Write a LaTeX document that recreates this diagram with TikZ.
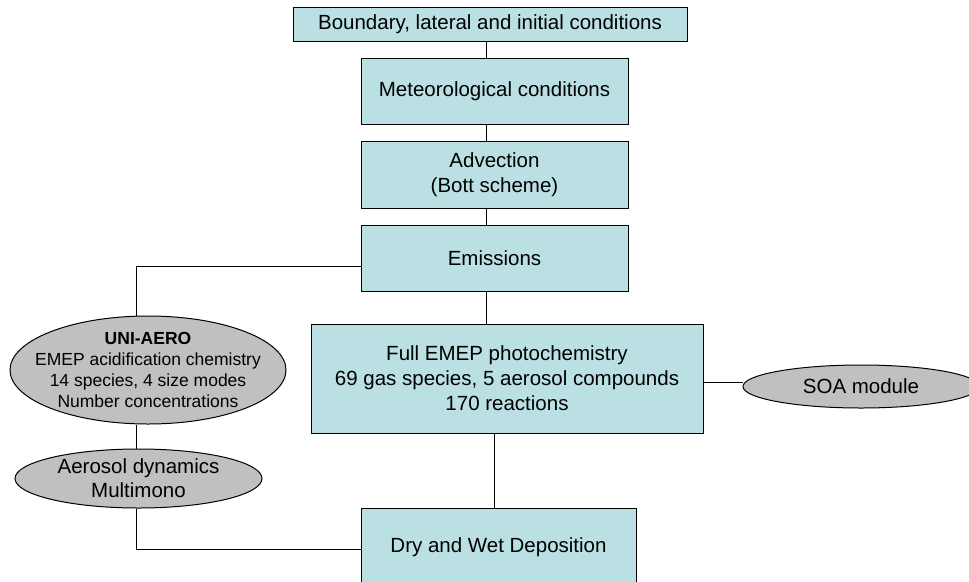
\documentclass[tikz,border=0pt]{standalone}
\usepackage{fontspec}
\setmainfont{Liberation Sans}
\usetikzlibrary{shapes.geometric}
\definecolor{boxcyan}{RGB}{187,224,227}
\definecolor{ovalgray}{RGB}{192,192,192}

\begin{document}
\begin{tikzpicture}
[x=1pt,y=-1pt,line width=1pt,
every node/.style={font=\fontsize{20.5}{25}\selectfont,align=center,inner sep=0pt},
procbox/.style={rectangle,draw,fill=boxcyan},
module/.style={ellipse,draw,fill=ovalgray,inner xsep=-25pt,inner ysep=-10pt}]
\path[use as bounding box,clip] (0,0) rectangle (969,581);
\node[procbox,minimum width=394,minimum height=34] (bound) at (490,24) {Boundary, lateral and initial conditions};
\node[procbox,minimum width=267,minimum height=66] (meteor) at (494.5,91) {Meteorological conditions};
\node[procbox,minimum width=267,minimum height=67] (advec) at (494.5,174.5) {Advection\\(Bott scheme)};
\node[procbox,minimum width=267,minimum height=66] (emis) at (494.5,258) {Emissions};
\node[procbox,minimum width=392,minimum height=109] (full) at (507,378.5) {Full EMEP photochemistry\\69 gas species, 5 aerosol compounds\\170 reactions};
\node[procbox,minimum width=275,minimum height=78] (dry) at (498.5,547) {Dry and Wet Deposition};
\node[module,minimum width=276,minimum height=108,font=\fontsize{17.5}{21}\selectfont] (uni) at (148,370) {\textbf{UNI-AERO}\\EMEP acidification chemistry\\14 species, 4 size modes\\Number concentrations};
\node[module,minimum width=247,minimum height=59,font=\fontsize{20.5}{24}\selectfont] (aero) at (138.5,478.5) {Aerosol dynamics\\Multimono};
\node[module,minimum width=236,minimum height=43] (soa) at (861,386.5) {SOA module};
\coordinate (spine) at (486,0);
\coordinate (spineb) at (494,0);
\coordinate (lspine) at (136,0);
\foreach \from/\to in {bound/meteor,meteor/advec,advec/emis,emis/full}
\draw (\from.south -| spine) -- (\to.north -| spine);
\draw (full.south -| spineb) -- (dry.north -| spineb);
\draw ([yshift=-3.5pt]full.east) -- ([yshift=-3.5pt]full.east -| soa.west);
\draw ([yshift=-8pt]emis.west) -| (uni.north -| lspine);
\draw (uni.south -| lspine) -- (aero.north -| lspine);
\draw (aero.south -| lspine) |- ([yshift=-2pt]dry.west);
\end{tikzpicture}
\end{document}
